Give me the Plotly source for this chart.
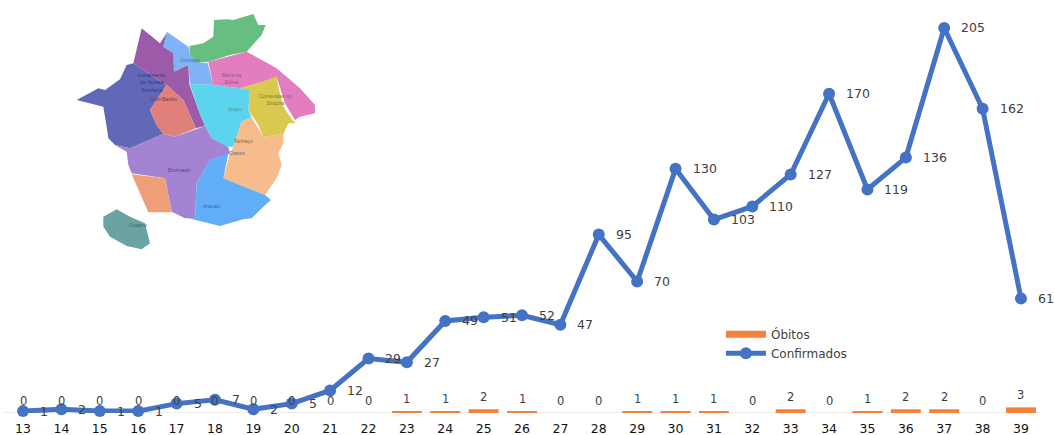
import plotly.graph_objects as go

W, H = 1054, 435
BOTTOM = 22
weeks = list(range(13, 40))
confirmados = [1, 2, 1, 1, 5, 7, 2, 5, 12, 29, 27, 49, 51, 52, 47, 95, 70, 130, 103, 110, 127, 170, 119, 136, 205, 162, 61]
obitos = [0, 0, 0, 0, 0, 0, 0, 0, 0, 0, 1, 1, 2, 1, 0, 0, 1, 1, 1, 0, 2, 0, 1, 2, 2, 0, 3]

regions = {
    "lightblue": ("#7FB3F5", [(290,65),(355,110),(360,130),(390,158),(413,158),(430,225),(360,222),(355,165),(312,185),(310,130),(280,110)]),
    "green": ("#66BF80", [(358,108),(400,100),(430,80),(432,30),(470,28),(490,30),(550,12),(565,45),(587,45),(575,75),(530,125),(480,135),(415,155),(380,158),(360,130)]),
    "pink": ("#E27DBF", [(415,155),(530,125),(620,175),(690,235),(735,285),(735,310),(690,320),(675,330),(645,280),(620,200),(580,215),(510,235),(430,225)]),
    "yellow": ("#D9C94E", [(510,235),(580,215),(620,197),(625,230),(640,290),(667,330),(677,340),(655,340),(640,372),(580,380),(565,345),(535,300),(540,240)]),
    "purple": ("#9B5BA8", [(215,55),(270,100),(290,70),(280,110),(310,130),(312,185),(355,165),(358,222),(385,300),(405,348),(378,355),(340,270),(290,225),(265,210),(190,160)]),
    "indigo": ("#6268B8", [(170,165),(190,160),(265,210),(290,225),(240,300),(260,345),(280,372),(180,415),(135,405),(115,385),(110,350),(100,290),(20,270),(85,235),(105,240),(150,208)]),
    "salmon": ("#E0807A", [(290,225),(340,270),(378,355),(315,380),(280,372),(260,345),(240,300)]),
    "cyan": ("#5CD4EE", [(360,222),(430,225),(510,235),(540,240),(535,300),(545,322),(515,335),(490,410),(470,410),(425,385),(405,348),(385,300)]),
    "peach": ("#F7BC8C", [(515,335),(545,322),(580,380),(640,372),(640,400),(625,430),(635,465),(620,505),(585,555),(460,505),(480,430),(490,410)]),
    "lilac": ("#A583D3", [(135,405),(180,415),(280,372),(315,380),(405,348),(425,385),(475,412),(480,430),(420,450),(380,520),(375,625),(345,625),(305,605),(285,505),(185,490),(175,465),(170,425)]),
    "orange": ("#EE9E78", [(185,493),(285,505),(305,607),(235,607)]),
    "blue": ("#62ADF8", [(475,430),(460,505),(585,555),(603,570),(580,590),(565,605),(545,625),(520,628),(450,648),(355,625),(375,625),(380,520),(420,450)]),
    "teal": ("#6BA3A3", [(100,620),(140,598),(180,620),(225,640),(240,700),(215,718),(170,708),(120,680),(100,650)]),
}
map_labels = [
    ("Jussiape", 360, 150, 5, "#4A78B8"), ("Barra da<br>Estiva", 483, 206, 5, "#8A5A80"),
    ("Livramento<br>de Nossa<br>Senhora", 247, 218, 5.6, "#3A3578"), ("Dom Basilio", 280, 267, 5, "#7A3A50"),
    ("Contendas do<br>Sincorá", 617, 270, 5.3, "#857538"), ("Ituaçu", 496, 296, 5, "#4A90A8"),
    ("Tanhaçu", 520, 393, 5, "#8A6A45"), ("Brumado", 328, 479, 5.5, "#55467F"),
    ("Cravos", 500, 430, 5, "#4F6A85"), ("Aracatu", 423, 589, 5, "#3A68A0"), ("Guajeru", 203, 645, 5, "#3A6868"),
]

def px(zx, zy):
    # paper coordinates span the plot area, which ends BOTTOM pixels above the page edge
    return (70 + zx / 3) / W, 1 - (10 + zy / 3) / (H - BOTTOM)

shapes = []
for color, pts in regions.values():
    conv = [px(*p) for p in pts]
    path = "M " + " L ".join(f"{x:.5f},{y:.5f}" for x, y in conv) + " Z"
    shapes.append(dict(type="path", xref="paper", yref="paper", path=path, fillcolor=color, line=dict(width=0), layer="below"))
shapes.append(dict(type="line", xref="x", yref="y", x0=12.5, x1=39.5, y0=0, y1=0, line=dict(color="#D9D9D9", width=1), layer="below"))

FONT = "DejaVu Sans"
TXT = "#404040"
fig = go.Figure()
fig.add_bar(x=weeks, y=obitos, name="Óbitos", marker=dict(color="#F5803A", line=dict(width=0)), width=0.78, showlegend=False)
fig.add_scatter(x=[None], y=[None], name="Óbitos", mode="lines", line=dict(color="#F5803A", width=7))
fig.add_scatter(x=weeks, y=confirmados, name="Confirmados", mode="lines+markers",
                line=dict(color="#4472C4", width=5), marker=dict(color="#4472C4", size=12), cliponaxis=False)

ann = []
for w, v in zip(weeks, confirmados):
    ann.append(dict(x=w, y=v, text=str(v), showarrow=False, xanchor="left", xshift=15,
                    font=dict(family=FONT, size=12.5, color=TXT)))
for w, v in zip(weeks, obitos):
    ann.append(dict(x=w, y=v, text=str(v), showarrow=False, yanchor="middle", yshift=12,
                    font=dict(family=FONT, size=11.5, color=TXT)))
for t, zx, zy, s, c in map_labels:
    x, y = px(zx, zy)
    ann.append(dict(xref="paper", yref="paper", x=x, y=y, text=t, showarrow=False, xanchor="center", yanchor="middle",
                    font=dict(family="Liberation Sans", size=s, color=c)))

fig.update_layout(
    width=W, height=H, margin=dict(l=0, r=0, t=0, b=BOTTOM), paper_bgcolor="white", plot_bgcolor="white",
    shapes=shapes, annotations=ann, showlegend=True,
    legend=dict(x=0.684, y=0.226, xanchor="left", yanchor="top", itemwidth=40, traceorder="normal",
                font=dict(family=FONT, size=12, color=TXT), bgcolor="rgba(0,0,0,0)"),
    xaxis=dict(range=[12.40, 39.86], tickmode="array", tickvals=weeks, ticktext=[str(w) for w in weeks],
               showgrid=False, zeroline=False, ticks="", showline=False, ticklabelstandoff=6,
               tickfont=dict(family=FONT, size=12.5, color="#111111")),
    yaxis=dict(range=[0, 219.9], visible=False, showgrid=False, zeroline=False),
)
fig.write_html("out.html", config=dict(displayModeBar=False), post_script="document.body.style.margin='0';")
